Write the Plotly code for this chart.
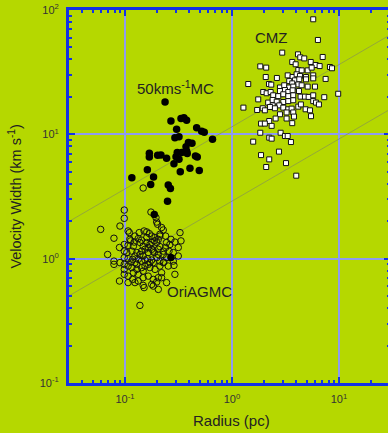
import numpy as np
import plotly.graph_objects as go

# ---- 50 km/s molecular cloud (filled circles) ----
mc50_radius = [0.269, 0.334, 0.356, 0.377, 0.304, 0.468, 0.521, 0.551, 0.658, 0.293,
               0.320, 0.392, 0.423, 0.372, 0.377, 0.308, 0.339, 0.300, 0.382, 0.456,
               0.474, 0.169, 0.169, 0.202, 0.217, 0.245, 0.320, 0.287, 0.162, 0.329,
               0.405, 0.495, 0.116, 0.185, 0.174, 0.254, 0.266, 0.250, 0.237, 0.188,
               0.269]
mc50_width = [12.8, 13.4, 13.6, 13.0, 11.0, 11.3, 10.6, 10.4, 9.12, 9.40,
              9.55, 8.58, 8.47, 7.96, 7.30, 7.13, 7.13, 6.59, 7.00, 6.69,
              6.57, 7.03, 6.57, 6.78, 6.81, 6.41, 6.29, 5.81, 5.18, 4.99,
              5.33, 5.13, 4.48, 4.53, 3.95, 3.92, 3.66, 2.89, 18.2, 2.27,
              1.02]

# ---- Orion A GMC (open circles) ----
ori_radius = [0.0985, 0.0985, 0.175, 0.195, 0.198, 0.202, 0.0898, 0.0593, 0.0789, 0.220,
              0.228, 0.107, 0.110, 0.136, 0.151, 0.160, 0.169, 0.327, 0.124, 0.133,
              0.143, 0.178, 0.191, 0.205, 0.188, 0.198, 0.269, 0.293, 0.245, 0.263,
              0.240, 0.0985, 0.107, 0.120, 0.148, 0.154, 0.165, 0.178, 0.212, 0.228,
              0.258, 0.283, 0.116, 0.129, 0.138, 0.148, 0.124, 0.0689, 0.0985, 0.107,
              0.118, 0.133, 0.143, 0.163, 0.178, 0.198, 0.184, 0.228, 0.245, 0.283,
              0.287, 0.0789, 0.0789, 0.0898, 0.0985, 0.0985, 0.0985, 0.107, 0.116, 0.129,
              0.143, 0.154, 0.171, 0.191, 0.212, 0.220, 0.120, 0.133, 0.148, 0.133,
              0.165, 0.184, 0.205, 0.198, 0.0889, 0.107, 0.124, 0.148, 0.151, 0.178,
              0.205, 0.138, 0.148, 0.160, 0.171, 0.184, 0.205, 0.154, 0.124, 0.171,
              0.143, 0.228, 0.113, 0.212, 0.0985, 0.111, 0.122, 0.165, 0.188, 0.205,
              0.212, 0.231, 0.254, 0.293, 0.220, 0.245, 0.184, 0.118, 0.107, 0.165,
              0.148, 0.129, 0.114, 0.178, 0.212, 0.240, 0.315, 0.315, 0.334, 0.160,
              0.138, 0.104, 0.0889]
ori_width = [2.46, 2.11, 2.37, 2.14, 1.97, 1.89, 1.83, 1.72, 1.46, 1.78,
             1.70, 1.67, 1.62, 1.62, 1.67, 1.64, 1.59, 1.62, 1.52, 1.45,
             1.41, 1.52, 1.48, 1.43, 1.39, 1.35, 1.43, 1.36, 1.35, 1.30,
             1.23, 1.30, 1.28, 1.26, 1.26, 1.19, 1.23, 1.19, 1.25, 1.15,
             1.15, 1.12, 1.15, 1.12, 1.08, 1.05, 1.05, 1.08, 1.02, 1.00,
             0.987, 0.987, 0.956, 1.00, 0.975, 1.02, 0.929, 1.08, 1.02, 0.956,
             0.883, 0.956, 0.900, 0.929, 0.900, 0.820, 0.748, 0.872, 0.847, 0.820,
             0.847, 0.872, 0.847, 0.820, 0.872, 0.771, 0.771, 0.748, 0.703, 0.661,
             0.724, 0.681, 0.703, 0.649, 0.661, 0.724, 0.642, 0.610, 0.585, 0.621,
             0.566, 0.421, 3.70, 1.35, 1.30, 1.15, 1.08, 0.975, 0.929, 0.929,
             1.15, 0.929, 1.39, 1.52, 1.15, 1.43, 1.36, 1.12, 1.12, 1.19,
             0.956, 0.939, 0.872, 0.748, 0.703, 0.642, 0.602, 0.681, 0.642, 0.900,
             0.795, 0.900, 0.939, 1.35, 1.57, 1.52, 1.23, 1.05, 1.39, 1.48,
             1.35, 1.12, 1.23]

# ---- Central Molecular Zone (open squares) ----
cmz_radius = [5.75, 6.36, 2.95, 4.14, 4.35, 4.74, 7.05, 3.66, 3.94, 5.45,
              6.06, 6.60, 8.24, 8.61, 1.84, 2.09, 4.17, 4.48, 5.10, 5.56,
              3.32, 3.69, 4.02, 4.32, 4.92, 5.75, 5.75, 2.07, 2.63, 7.51,
              3.43, 3.88, 4.26, 4.92, 1.42, 2.22, 2.33, 3.66, 4.17, 4.48,
              2.81, 3.08, 3.43, 3.74, 5.10, 5.97, 2.81, 3.13, 3.36, 3.69,
              4.23, 1.96, 2.11, 2.30, 2.43, 2.71, 3.02, 3.36, 3.74, 4.38,
              4.81, 5.21, 5.75, 7.29, 1.76, 2.18, 2.40, 2.62, 3.02, 3.36,
              3.74, 5.75, 6.10, 6.50, 2.40, 2.77, 1.28, 1.72, 1.94, 2.03,
              2.27, 2.52, 3.02, 3.36, 3.61, 4.17, 4.41, 4.88, 5.36, 2.81,
              3.24, 3.74, 3.80, 5.48, 2.23, 2.56, 3.24, 3.66, 1.87, 2.03,
              2.35, 9.84, 1.84, 2.85, 3.13, 3.32, 2.23, 2.35, 1.58, 3.56,
              2.75, 1.87, 2.23, 3.20, 2.09, 3.99]
cmz_width = [84.2, 57.4, 45.4, 44.0, 41.6, 40.8, 41.9, 38.2, 36.6, 38.2,
             36.1, 35.4, 34.8, 34.0, 35.2, 34.4, 32.9, 32.7, 32.7, 34.4,
             29.8, 28.9, 30.4, 29.5, 28.9, 29.8, 28.2, 28.9, 28.4, 27.9,
             26.8, 27.2, 27.7, 27.7, 25.4, 25.4, 25.1, 25.7, 25.2, 24.8,
             23.8, 24.8, 23.8, 24.2, 24.2, 24.2, 22.3, 22.7, 21.9, 22.6,
             22.3, 21.9, 21.4, 21.9, 20.6, 20.3, 21.0, 20.3, 20.6, 20.1,
             20.1, 20.0, 20.6, 19.9, 19.1, 18.0, 18.9, 18.3, 18.2, 18.5,
             18.8, 18.5, 18.0, 17.4, 17.1, 17.1, 16.4, 15.7, 16.2, 15.6,
             16.6, 16.2, 16.4, 15.9, 16.1, 16.7, 17.4, 15.9, 15.6, 14.5,
             15.0, 15.0, 13.9, 14.0, 12.8, 13.4, 13.4, 12.3, 12.2, 12.2,
             11.7, 21.2, 10.3, 10.3, 9.69, 9.69, 9.40, 9.23, 8.73, 8.67,
             7.26, 6.81, 6.29, 5.87, 5.46, 4.65]

# Size-linewidth scaling relations  dv = A * R**0.5
relation_coeffs = [2.9, 11.5]
relation_index = 0.5

x_range = [0.03, 30]
y_range = [0.1, 100]
x_major = [0.1, 1, 10]
x_major_text = ["10<sup>-1</sup>", "10<sup>0</sup>", "10<sup>1</sup>"]
y_major = [0.1, 1, 10, 100]
y_major_text = ["10<sup>-1</sup>", "10<sup>0</sup>", "10<sup>1</sup>", "10<sup>2</sup>"]

BG = "#b5d800"
BLUE = "#1432e6"
GRID = "#8e9cf0"
FONT = "Arial, Liberation Sans, sans-serif"
TXT = "#222222"


def minor_ticks(lo, hi):
    vals = []
    for e in range(-3, 4):
        for k in range(2, 10):
            v = k * 10.0 ** e
            if lo < v < hi:
                vals.append(v)
    return vals


fig = go.Figure()

r_line = np.array(x_range, dtype=float)
for a in relation_coeffs:
    fig.add_trace(go.Scatter(
        x=r_line, y=a * r_line ** relation_index, mode="lines",
        line=dict(color="#8c9c48", width=0.8), hoverinfo="skip", showlegend=False))

fig.add_trace(go.Scatter(
    x=ori_radius, y=ori_width, mode="markers", name="OriAGMC",
    marker=dict(symbol="circle-open", size=6.5, color="#111111",
                line=dict(width=1, color="#111111"))))

fig.add_trace(go.Scatter(
    x=mc50_radius, y=mc50_width, mode="markers", name="50kms-1MC",
    marker=dict(symbol="circle", size=7.5, color="#000000", line=dict(width=0))))

fig.add_trace(go.Scatter(
    x=cmz_radius, y=cmz_width, mode="markers", name="CMZ",
    marker=dict(symbol="square", size=5, color="#ffffff",
                line=dict(width=1, color="#111111"))))

axis_common = dict(
    type="log", showline=True, linecolor=BLUE, linewidth=3, mirror="allticks",
    ticks="inside", ticklen=6, tickwidth=2, tickcolor=BLUE,
    showgrid=True, gridcolor=GRID, gridwidth=1.5, zeroline=False,
    tickfont=dict(family=FONT, size=11, color="#333333"),
    tickmode="array",
)

fig.update_xaxes(
    **axis_common, range=[np.log10(x_range[0]), np.log10(x_range[1])],
    tickvals=x_major, ticktext=x_major_text, ticklabelstandoff=4,
    minor=dict(tickmode="array", tickvals=minor_ticks(*x_range), ticks="inside",
               ticklen=3, tickwidth=1.5, tickcolor=BLUE, showgrid=False))
fig.update_yaxes(
    **axis_common, range=[np.log10(y_range[0]), np.log10(y_range[1])],
    tickvals=y_major, ticktext=y_major_text, ticklabelstandoff=5,
    minor=dict(tickmode="array", tickvals=minor_ticks(*y_range), ticks="inside",
               ticklen=3, tickwidth=1.5, tickcolor=BLUE, showgrid=False))

labels = [
    ("CMZ", 0.369, 1.776),
    ("50kms<sup>-1</sup>MC", -0.526, 1.378),
    ("OriAGMC", -0.304, -0.263),
]
annotations = [
    dict(text=t, x=lx, y=ly, xref="x", yref="y", showarrow=False,
         xanchor="center", yanchor="middle",
         font=dict(family=FONT, size=15, color=TXT))
    for t, lx, ly in labels
]
annotations.append(dict(
    text="Radius (pc)", x=0.505, y=-0.1, xref="paper", yref="paper",
    showarrow=False, xanchor="center", yanchor="middle",
    font=dict(family=FONT, size=15, color=TXT)))
annotations.append(dict(
    text="Velocity Width (km s<sup>-1</sup>)", x=-0.171, y=0.5,
    xref="paper", yref="paper", textangle=-90, showarrow=False,
    xanchor="center", yanchor="middle",
    font=dict(family=FONT, size=14.5, color=TXT)))

fig.update_layout(
    width=390, height=433,
    margin=dict(l=69, r=0, t=10, b=50, autoexpand=False),
    paper_bgcolor=BG, plot_bgcolor=BG,
    showlegend=False, annotations=annotations,
)

fig.write_html(
    "out.html",
    post_script="document.documentElement.style.overflow='hidden';"
                "document.body.style.overflow='hidden';document.body.style.margin='0';")
